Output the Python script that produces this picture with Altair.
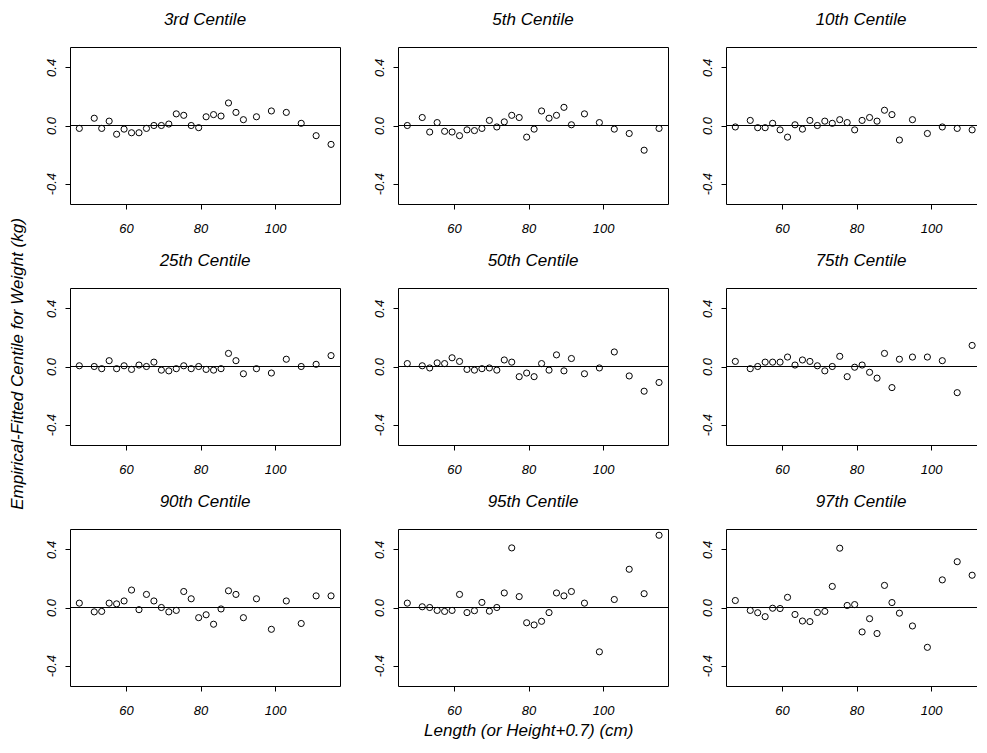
import altair as alt
import pandas as pd

length = [47.5, 51.5, 53.5, 55.5, 57.5, 59.5, 61.5, 63.5, 65.5, 67.5, 69.5, 71.5,
          73.5, 75.5, 77.5, 79.5, 81.5, 83.5, 85.5, 87.5, 89.5, 91.5, 95, 99, 103,
          107, 111, 115]

panel_titles = ["3rd Centile", "5th Centile", "10th Centile",
                "25th Centile", "50th Centile", "75th Centile",
                "90th Centile", "95th Centile", "97th Centile"]

c3 = [-0.02, 0.05, -0.02, 0.03, -0.06, -0.025, -0.05, -0.05, -0.02, 0.0, 0.0, 0.01,
      0.08, 0.07, 0.0, -0.015, 0.06, 0.075, 0.065, 0.155, 0.09, 0.04, 0.06, 0.10,
      0.09, 0.015, -0.07, -0.13]
c5 = [0.0, 0.055, -0.045, 0.02, -0.04, -0.045, -0.07, -0.03, -0.035, -0.02, 0.035,
      -0.01, 0.025, 0.07, 0.055, -0.08, -0.025, 0.10, 0.05, 0.07, 0.125, 0.005, 0.08,
      0.02, -0.025, -0.055, -0.17, -0.02]
c10 = [-0.01, 0.035, -0.015, -0.015, 0.015, -0.03, -0.08, 0.005, -0.025, 0.035, 0.0,
       0.03, 0.015, 0.04, 0.02, -0.03, 0.035, 0.055, 0.03, 0.105, 0.075, -0.10, 0.04,
       -0.055, -0.01, -0.02, -0.03, 0.045]
c25 = [0.005, 0.0, -0.015, 0.04, -0.015, 0.005, -0.02, 0.01, 0.0, 0.03, -0.025, -0.03,
       -0.015, 0.005, -0.015, 0.0, -0.02, -0.025, -0.015, 0.09, 0.04, -0.05, -0.015,
       -0.045, 0.05, 0.0, 0.015, 0.075]
c50 = [0.02, 0.005, -0.01, 0.025, 0.02, 0.06, 0.035, -0.02, -0.025, -0.015, -0.01,
       -0.025, 0.045, 0.03, -0.07, -0.045, -0.07, 0.02, -0.025, 0.08, -0.03, 0.055,
       -0.05, -0.01, 0.10, -0.065, -0.17, -0.11]
c75 = [0.035, -0.015, 0.0, 0.03, 0.03, 0.03, 0.065, 0.01, 0.045, 0.035, 0.005, -0.03,
       0.0, 0.07, -0.07, -0.005, 0.01, -0.04, -0.08, 0.09, -0.145, 0.05, 0.065, 0.065,
       0.04, -0.18, 0.145, -0.07]
c90 = [0.03, -0.03, -0.027, 0.03, 0.025, 0.045, 0.12, -0.015, 0.09, 0.045, 0.0, -0.03,
       -0.02, 0.11, 0.06, -0.07, -0.05, -0.115, -0.01, 0.115, 0.09, -0.07, 0.06, -0.15,
       0.045, -0.11, 0.08, 0.08]
c95 = [0.03, 0.005, 0.0, -0.02, -0.027, -0.02, 0.09, -0.035, -0.022, 0.035, -0.025,
       0.0, 0.10, 0.41, 0.075, -0.105, -0.12, -0.095, -0.035, 0.10, 0.08, 0.11, 0.03,
       -0.305, 0.055, 0.263, 0.095, 0.497]
c97 = [0.048, -0.02, -0.036, -0.063, -0.005, -0.007, 0.07, -0.048, -0.093, -0.097,
       -0.034, -0.027, 0.145, 0.408, 0.014, 0.02, -0.168, -0.077, -0.179, 0.152, 0.034,
       -0.039, -0.127, -0.274, 0.19, 0.315, 0.222, 0.485]

series = [c3, c5, c10, c25, c50, c75, c90, c95, c97]

x_ticks = [60, 80, 100]
y_ticks = [-0.4, -0.2, 0.0, 0.2, 0.4]

FONT = "Liberation Sans"

x_axis = alt.Axis(values=x_ticks, title=None, grid=False, domain=False,
                  tickSize=5, tickColor="black", labelFont=FONT, labelFontSize=13,
                  labelFontStyle="italic", labelColor="black", labelBaseline="middle",
                  labelPadding=19)
y_axis = alt.Axis(values=y_ticks, title=None, grid=False, domain=False,
                  tickSize=5, tickColor="black", labelFont=FONT, labelFontSize=13,
                  labelFontStyle="italic", labelColor="black", labelAngle=270,
                  labelAlign="center", labelBaseline="middle", labelPadding=14,
                  labelExpr="datum.value == 0.4 ? '0.4' : (datum.value == 0 ? '0.0' : (datum.value == -0.4 ? '-0.4' : ''))")

panels = []
for title, vals in zip(panel_titles, series):
    df = pd.DataFrame({"x": length, "y": vals})
    base = alt.Chart(df)
    pts = base.mark_point(shape="circle", filled=False, size=38, color="black",
                          strokeWidth=1, opacity=1, clip=False).encode(
        x=alt.X("x:Q", scale=alt.Scale(domain=[45, 117.4], nice=False, zero=False), axis=x_axis),
        y=alt.Y("y:Q", scale=alt.Scale(domain=[-0.54, 0.54], nice=False, zero=False), axis=y_axis),
    )
    rule = base.mark_rule(color="black", strokeWidth=1).encode(y=alt.datum(0))
    panel = alt.layer(rule, pts).properties(
        width=270, height=157,
        title=alt.TitleParams(title, font=FONT, fontSize=17, fontStyle="italic",
                              fontWeight="normal", color="black", frame="group",
                              anchor="middle", offset=18),
    )
    panels.append(panel)

grid = alt.concat(*panels, columns=3, spacing={"column": 31, "row": 15}).properties(
    title=alt.TitleParams("Empirical-Fitted Centile for Weight (kg)", orient="left",
                          font=FONT, fontSize=17, fontStyle="italic", fontWeight="normal",
                          color="black", anchor="middle", offset=18)
)

chart = alt.vconcat(grid).properties(
    title=alt.TitleParams("Length (or Height+0.7) (cm)", orient="bottom",
                          font=FONT, fontSize=17, fontStyle="italic", fontWeight="normal",
                          color="black", anchor="middle", offset=5, dx=26),
    padding={"left": 0, "top": 2, "right": -20, "bottom": 4},
).configure(background="white").configure_view(stroke="black", strokeWidth=1)

chart.save("out.html", embed_options={"renderer": "svg", "actions": False})
